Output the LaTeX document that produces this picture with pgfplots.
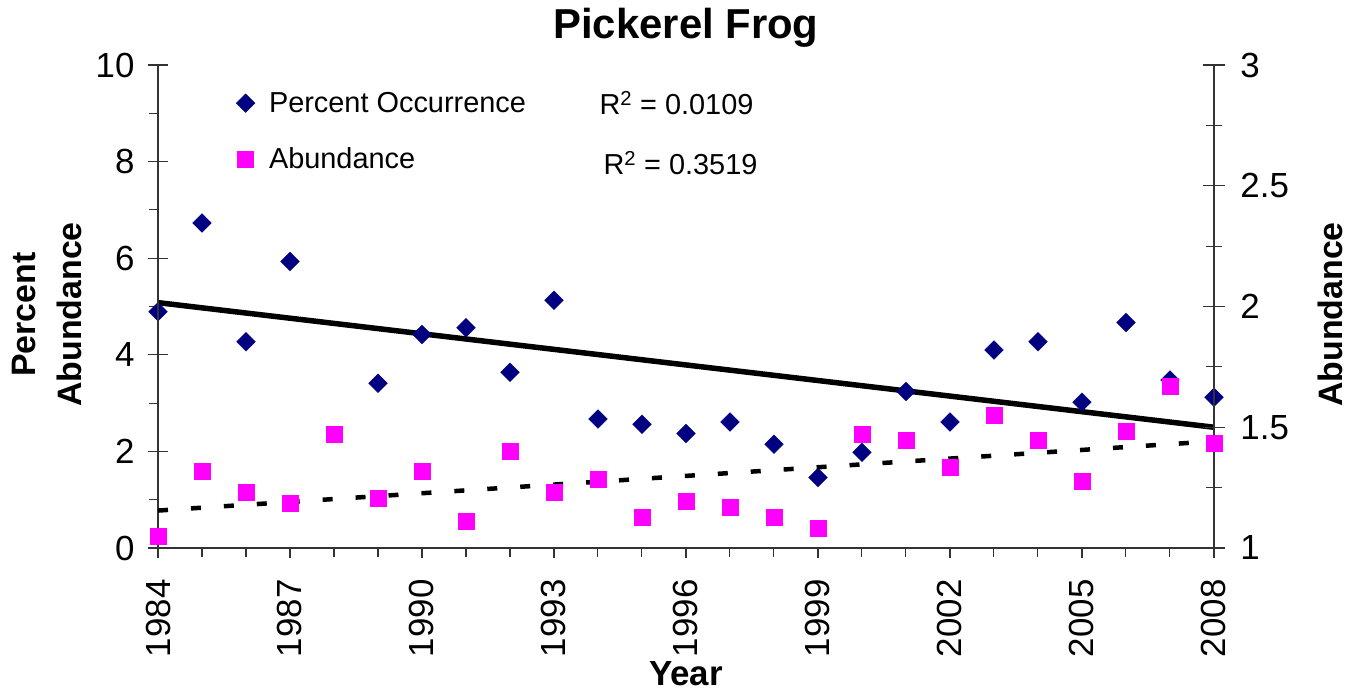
\documentclass[border=0pt]{standalone}
\usepackage{pgfplots}
\pgfplotsset{compat=1.18}
\usepackage{fontspec}
\setmainfont{Liberation Sans}
\definecolor{navyc}{RGB}{0,0,128}
\definecolor{magc}{RGB}{255,0,255}
\pgfplotstableread{
year pct
1984 4.89
1985 6.73
1986 4.27
1987 5.93
1989 3.41
1990 4.42
1991 4.56
1992 3.64
1993 5.13
1994 2.67
1995 2.56
1996 2.37
1997 2.61
1998 2.15
1999 1.46
2000 1.98
2001 3.24
2002 2.61
2003 4.10
2004 4.27
2005 3.02
2006 4.67
2007 3.48
2008 3.12
}\pctdata
\pgfplotstableread{
year ab
1984 1.047
1985 1.320
1986 1.230
1987 1.185
1988 1.470
1989 1.206
1990 1.320
1991 1.113
1992 1.400
1993 1.230
1994 1.286
1995 1.127
1996 1.195
1997 1.171
1998 1.127
1999 1.082
2000 1.471
2001 1.447
2002 1.333
2003 1.551
2004 1.447
2005 1.277
2006 1.482
2007 1.672
2008 1.434
}\abdata
\pgfplotsset{
  common/.style={
    width=1056bp, height=483bp, scale only axis, clip=false,
    xmin=1984, xmax=2008,
    axis line style={line width=1.1bp, black!80},
    tick style={line width=1.1bp, black!80},
    /pgf/number format/assume math mode=true,
    ticklabel style={font=\fontsize{35}{40}\selectfont},
  }
}
\begin{document}
\begin{tikzpicture}
\path[use as bounding box] (-158bp,-145bp) rectangle (1196bp,548bp);
% main axis: left y + x axis
\begin{axis}[common,
  ymin=0, ymax=10,
  axis x line*=bottom, axis y line*=left,
  tick align=outside, major tick length=10bp, minor tick length=9bp,
  xtick={1984,1987,...,2008}, minor xtick={1984,...,2008},
  ytick={0,2,...,10}, minor ytick={1,3,...,9},
  xticklabel style={rotate=90, anchor=east, xshift=-18bp, /pgf/number format/set thousands separator={}},
  yticklabel style={xshift=-10bp},
  title={Pickerel Frog},
  title style={font=\bfseries\fontsize{42}{46}\selectfont, at={(rel axis cs:0.5,1)}, anchor=base, yshift=21bp},
  xlabel={Year},
  every axis x label/.style={at={(rel axis cs:0.5,0)}, anchor=base, yshift=-137bp, font=\bfseries\fontsize{35}{40}\selectfont},
  ylabel={Percent\\Abundance},
  every axis y label/.style={at={(rel axis cs:0,0.5)}, anchor=center, xshift=-111bp, yshift=-8bp, rotate=90, align=center, font=\bfseries\fontsize{34}{46}\selectfont},
  legend style={at={(rel axis cs:0.074,0.950)}, anchor=north west, draw=none, fill=none, inner sep=0pt,
    font=\fontsize{29}{33}\selectfont, row sep=28bp, nodes={inner sep=3bp},
    /tikz/column 1/.style={column sep=11bp}},
  legend cell align=left,
]
\addplot[black, line width=5.5bp, forget plot] coordinates {(1984,5.08) (2008,2.50)};
\addplot[only marks, mark=square*, mark size=6.6bp, color=navyc, mark options={rotate=45, fill=navyc, draw=navyc, line width=0.4bp}] table[x=year, y=pct] {\pctdata};
\addlegendentry{Percent Occurrence}
\addlegendimage{only marks, mark=square*, mark size=8bp, color=magc, mark options={fill=magc, draw=magc, line width=0.4bp}}
\addlegendentry{Abundance}
\node[anchor=base west, font=\fontsize{29}{33}\selectfont] at (rel axis cs:0.4148,0.8965) {R\textsuperscript{2} = 0.0109};
\node[anchor=base west, font=\fontsize{29}{33}\selectfont] at (rel axis cs:0.4186,0.7723) {R\textsuperscript{2} = 0.3519};
\end{axis}
% inner halves of left major ticks
\begin{axis}[common,
  ymin=0, ymax=10,
  axis x line=none, axis y line*=left,
  tick align=inside, major tick length=10bp,
  ytick={0,2,...,10}, yticklabels={}, minor ytick={},
]
\addplot[draw=none, forget plot] coordinates {(1984,0) (2008,0)};
\end{axis}
% right axis
\begin{axis}[common,
  ymin=1, ymax=3,
  axis x line=none, axis y line*=right,
  tick align=center, major tick length=22bp, minor tick length=16bp,
  ytick={1,1.5,...,3}, minor ytick={1.25,1.75,2.25,2.75},
  yticklabel style={xshift=12bp},
  ylabel={Abundance},
  every axis y label/.style={at={(rel axis cs:1,0.5)}, anchor=center, xshift=116bp, yshift=-8bp, rotate=90, font=\bfseries\fontsize{34}{40}\selectfont},
]
\addplot[black, line width=4.5bp, dash pattern=on 10bp off 23bp, forget plot] coordinates {(1984,1.155) (2008,1.442)};
\addplot[only marks, mark=square*, mark size=8bp, color=magc, mark options={fill=magc, draw=magc, line width=0.4bp}] table[x=year, y=ab] {\abdata};
\end{axis}
\end{tikzpicture}
\end{document}
